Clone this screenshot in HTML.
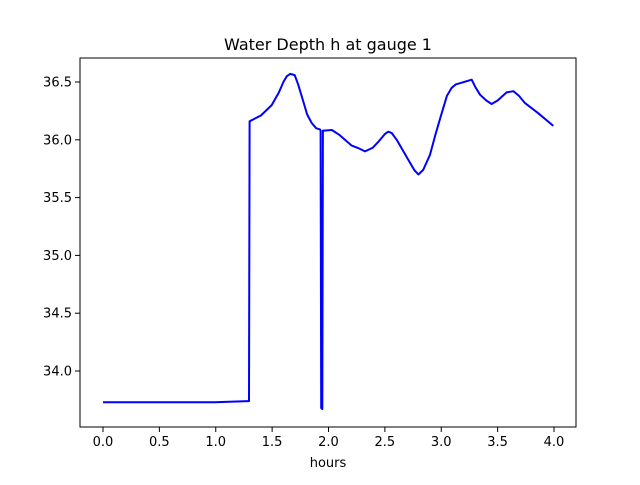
<!DOCTYPE html>
<html><head><meta charset="utf-8"><style>
body{margin:0;background:#fff}
text{font-family:"DejaVu Sans","Liberation Sans",sans-serif;font-size:13px;fill:#000}
</style></head><body>
<svg id="chart" width="640" height="480" xmlns="http://www.w3.org/2000/svg">
<rect width="640" height="480" fill="#fff"/>
<text x="328" y="50" text-anchor="middle" style="font-size:16px">Water Depth h at gauge 1</text>
<text x="328" y="467" text-anchor="middle">hours</text>
<g id="ticks"></g>
<path id="line" fill="none" stroke="#0000ff" stroke-width="2" stroke-linejoin="round"/>
<rect x="80" y="58" width="496" height="369" fill="none" stroke="#000" stroke-width="1"/>
</svg>
<script>
const hours=[0,0.99,1.286,1.295,1.30,1.40,1.496,1.56,1.60,1.63,1.66,1.70,1.73,1.774,1.81,1.851,1.89,1.925,1.93,1.935,1.945,1.95,1.96,2.03,2.10,2.206,2.26,2.324,2.39,2.44,2.50,2.53,2.56,2.605,2.70,2.76,2.797,2.84,2.90,2.95,3.004,3.05,3.093,3.13,3.166,3.27,3.30,3.344,3.40,3.447,3.50,3.58,3.64,3.69,3.74,3.86,3.994];
const depth=[33.73,33.73,33.74,33.74,36.16,36.21,36.30,36.41,36.50,36.55,36.57,36.56,36.48,36.34,36.22,36.145,36.10,36.09,36.08,33.68,33.67,36.08,36.08,36.085,36.04,35.95,35.93,35.90,35.93,35.98,36.05,36.07,36.06,36.0,35.84,35.74,35.70,35.74,35.87,36.05,36.23,36.38,36.45,36.48,36.49,36.52,36.46,36.39,36.34,36.31,36.34,36.41,36.42,36.38,36.32,36.23,36.12];
const xTicks=[0,0.5,1,1.5,2,2.5,3,3.5,4];
const yTicks=[34.0,34.5,35.0,35.5,36.0,36.5];
const X=v=>103+v*112.75, Y=v=>82+(36.5-v)*115.6;
const ns="http://www.w3.org/2000/svg";
const g=document.getElementById('ticks');
function mk(tag,a){const e=document.createElementNS(ns,tag);for(const k in a)e.setAttribute(k,a[k]);g.appendChild(e);return e;}
xTicks.forEach(t=>{
 const l=mk('line',{x1:X(t),x2:X(t),y1:427,y2:432,stroke:'#000','stroke-width':1});
 
 
 const tx=mk('text',{x:X(t),y:446,'text-anchor':'middle'});tx.textContent=t.toFixed(1);
 
 
});
yTicks.forEach(t=>{
 const l=mk('line',{x1:75,x2:80,y1:Y(t),y2:Y(t),stroke:'#000','stroke-width':1});
 
 
 const tx=mk('text',{x:72,y:Y(t)+4.5,'text-anchor':'end'});tx.textContent=t.toFixed(1);
 
 
});
document.getElementById('line').setAttribute('d',hours.map((h,i)=>(i?'L':'M')+X(h).toFixed(1)+','+Y(depth[i]).toFixed(1)).join(''));
</script>
</body></html>
